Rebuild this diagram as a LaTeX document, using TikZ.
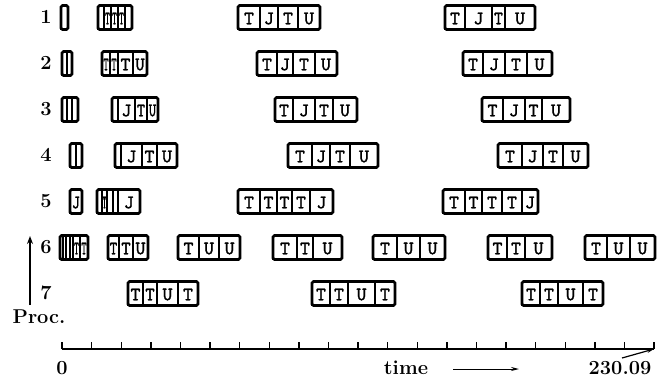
\documentclass[tikz,border=0pt]{standalone}
\usepackage{fontspec}
\newfontfamily\cellfont{lmmono10-regular.otf}[FakeBold=1.6]
\usetikzlibrary{arrows.meta}
\tikzset{
  outerbox/.style={line width=2.8pt, rounded corners=1.5pt},
  celldiv/.style={line width=1.6pt},
  celltxt/.style={font=\fontsize{19}{19}\selectfont\cellfont, inner sep=0pt},
  lbl/.style={font=\fontsize{20}{20}\selectfont\bfseries, inner sep=0pt},
  axisline/.style={line width=2pt},
  tickline/.style={line width=1.4pt},
  arr/.style={line width=2.2pt, -{Stealth[length=8pt,width=6pt]}},
}
\newcommand{\gbox}[4]{%
  \foreach \xe/\lt [remember=\xe as \xs (initially #2)] in {#4} {
    \draw[celldiv] (\xs,#1-12) -- (\xs,#1+12);
    \pgfmathsetmacro\sc{min(1,(\xe-\xs)/15)}
    \node[celltxt, xscale=\sc] at ({(\xs+\xe)/2},#1+1) {\lt};
  }
  \draw[outerbox] (#2,#1-12) rectangle (#3,#1+12);
}
\begin{document}
\begin{tikzpicture}[x=1pt,y=-1pt]
\useasboundingbox (0,0) rectangle (666,381);
% row labels
\foreach \r in {1,...,7} {
  \node[lbl] (r\r) at (46,{17+46*(\r-1)}) {\r};
}
% Row 1
\gbox{17.5}{61}{68}{68/}
\gbox{17.5}{98}{132}{104/,111/T,118/T,125/T,132/}
\gbox{17.5}{238}{320}{260/T,278/J,298/T,320/U}
\gbox{17.5}{445}{535}{465/T,492/J,505/T,535/U}
% Row 2
\gbox{63.5}{62}{72}{67/,72/}
\gbox{63.5}{102}{147}{110/T,118/T,133/T,147/U}
\gbox{63.5}{257}{337}{277/T,293/J,315/T,337/U}
\gbox{63.5}{463}{552}{483/T,505/J,527/T,552/U}
% Row 3
\gbox{109.5}{62}{78}{67/,72/,78/}
\gbox{109.5}{112}{158}{118/,135/J,147/T,158/U}
\gbox{109.5}{275}{357}{293/T,315/J,333/T,357/U}
\gbox{109.5}{482}{570}{503/T,525/J,542/T,570/U}
% Row 4
\gbox{155.5}{70}{82}{76/,82/}
\gbox{155.5}{115}{177}{121/,142/J,157/T,177/U}
\gbox{155.5}{288}{378}{312/T,330/J,350/T,378/U}
\gbox{155.5}{498}{588}{522/T,543/J,563/T,588/U}
% Row 5
\gbox{201.5}{70}{82}{82/J}
\gbox{201.5}{97}{140}{102/,107/T,113/,118/,140/J}
\gbox{201.5}{238}{333}{260/T,277/T,292/T,310/T,333/J}
\gbox{201.5}{443}{538}{465/T,482/T,502/T,522/T,538/J}
% Row 6
\gbox{247.5}{60}{88}{63/,66/,70/,73/,80/T,88/T}
\gbox{247.5}{108}{148}{119/T,133/T,148/U}
\gbox{247.5}{178}{240}{199/T,219/U,240/U}
\gbox{247.5}{273}{342}{297/T,313/T,342/U}
\gbox{247.5}{373}{445}{397/T,420/U,445/U}
\gbox{247.5}{488}{552}{507/T,525/T,552/U}
\gbox{247.5}{585}{655}{607/T,630/U,655/U}
% Row 7
\gbox{293.5}{128}{198}{143/T,157/T,178/U,198/T}
\gbox{293.5}{312}{395}{330/T,348/T,375/U,395/T}
\gbox{293.5}{522}{603}{540/T,558/T,583/U,603/T}
% Proc axis
\node[lbl] (proc) at (39,317) {Proc.};
\coordinate (pbot) at (30,305);
\coordinate (ptop) at (30,236);
\draw[arr] (pbot) -- (ptop);
% time axis
\coordinate (ax0) at (62,349);
\coordinate (ax1) at (654,349);
\draw[axisline] (ax0) -- (ax1);
\foreach \i in {0,...,20} {
  \draw[tickline] ({62+\i*29.6},349) -- ++(0,-7);
}
\node[lbl] (zero) at (62,368) {0};
\node[lbl] (time) at (406,368) {time};
\coordinate (ta0) at (453,369);
\coordinate (ta1) at (519,369);
\draw[line width=1pt, -{Stealth[length=8pt,width=4pt]}] (ta0) -- (ta1);
\node[lbl] (tend) at (620,368) {230.09};
\coordinate (tarr) at (622,358);
\draw[line width=1.2pt, -{Stealth[length=7pt,width=4pt]}] (tarr) -- (ax1);
\end{tikzpicture}
\end{document}
